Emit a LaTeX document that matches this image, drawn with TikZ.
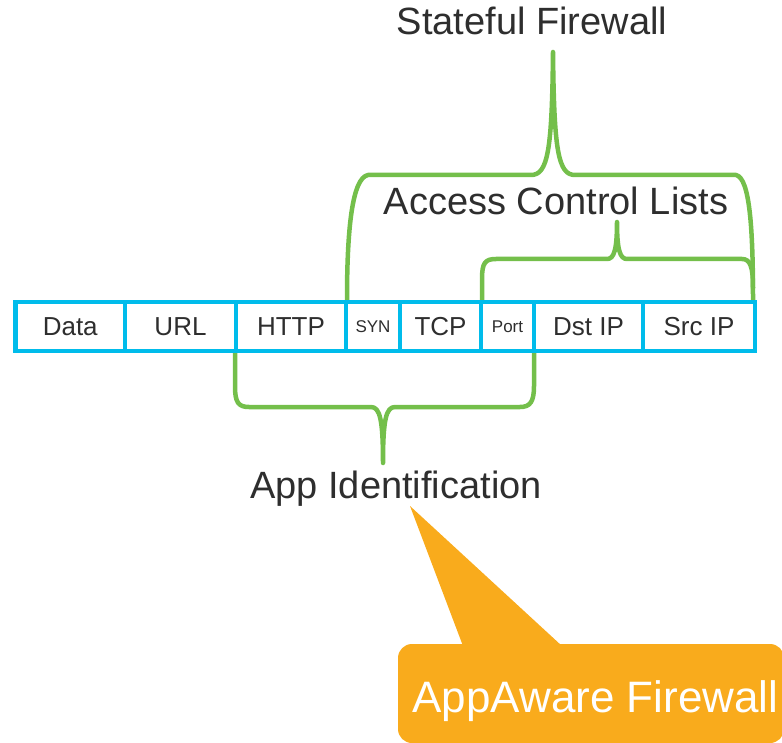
\documentclass[tikz,border=0pt]{standalone}
\usepackage{fontspec}
\setmainfont{Liberation Sans}
\definecolor{pktblue}{HTML}{00BCEB}
\definecolor{bracegreen}{HTML}{74BF4B}
\definecolor{calloutorange}{HTML}{F9AB1C}
\definecolor{labelgray}{HTML}{2E2E2E}
\tikzset{
  pkt/.style={draw=pktblue, line width=4.5pt, fill=white, rectangle, inner sep=0pt, outer sep=0pt,
              minimum height=49pt, text=labelgray, font=\fontsize{26}{28}\selectfont},
  smallpkt/.style={pkt, font=\fontsize{17}{19}\selectfont},
  bracepath/.style={draw=bracegreen, line width=4.5pt, line cap=round, line join=round},
  biglabel/.style={text=labelgray, inner sep=0pt, anchor=base, font=\fontsize{38}{40}\selectfont},
}
\begin{document}
\begin{tikzpicture}[x=1pt, y=-1pt]
\useasboundingbox (0,0) rectangle (782,743);

% braces above and below the packet
\draw[bracepath]
  (347,300) .. controls (347,230) and (352,178) .. (368,175) -- (531,175)
  .. controls (548,175) and (552,150) .. (553,52)
  .. controls (554,150) and (558,175) .. (575,175) -- (736,175)
  .. controls (750,178) and (753,230) .. (753,300);
\draw[bracepath]
  (482,300) -- (482,279) .. controls (482,263) and (485,259) .. (496,259) -- (607,259)
  .. controls (614,259) and (617,250) .. (617,222)
  .. controls (617,250) and (620,259) .. (627,259) -- (742,259)
  .. controls (750,259) and (753,266) .. (753,288);
\draw[bracepath]
  (235,352) -- (235,386) .. controls (235,402) and (238,407) .. (249,407) -- (371,407)
  .. controls (380,407) and (383,420) .. (383,463)
  .. controls (383,420) and (386,407) .. (395,407) -- (520,407)
  .. controls (530,407) and (534,402) .. (534,386) -- (534,352);

% packet fields
\node[pkt, minimum width=109.5pt] (data) at (70.25,326.5) {Data};
\node[pkt, minimum width=111pt] (url) at (180.5,326.5) {URL};
\node[pkt, minimum width=110pt] (http) at (291,326.5) {HTTP};
\node[smallpkt, minimum width=54pt] (syn) at (373,326.5) {SYN};
\node[pkt, minimum width=81pt] (tcp) at (440.5,326.5) {TCP};
\node[smallpkt, minimum width=53pt] (port) at (507.5,326.5) {Port};
\node[pkt, minimum width=109pt] (dst) at (588.5,326.5) {Dst IP};
\node[pkt, minimum width=112pt] (src) at (699,326.5) {Src IP};

% brace labels
\node[biglabel] (stateful) at (532,35) {Stateful Firewall};
\node[biglabel] (acl) at (556,215) {Access Control Lists};
\node[biglabel] (appid) at (396,498) {App Identification};

% callout
\coordinate (tip) at (410,506);
\fill[calloutorange, rounded corners=14pt] (398,644) rectangle (784,743);
\fill[calloutorange] (463,646) -- (tip) -- (562,646) -- cycle;
\node[biglabel, text=white, font=\fontsize{44}{46}\selectfont] (appaware) at (595.5,712) {AppAware Firewall};
\end{tikzpicture}
\end{document}
